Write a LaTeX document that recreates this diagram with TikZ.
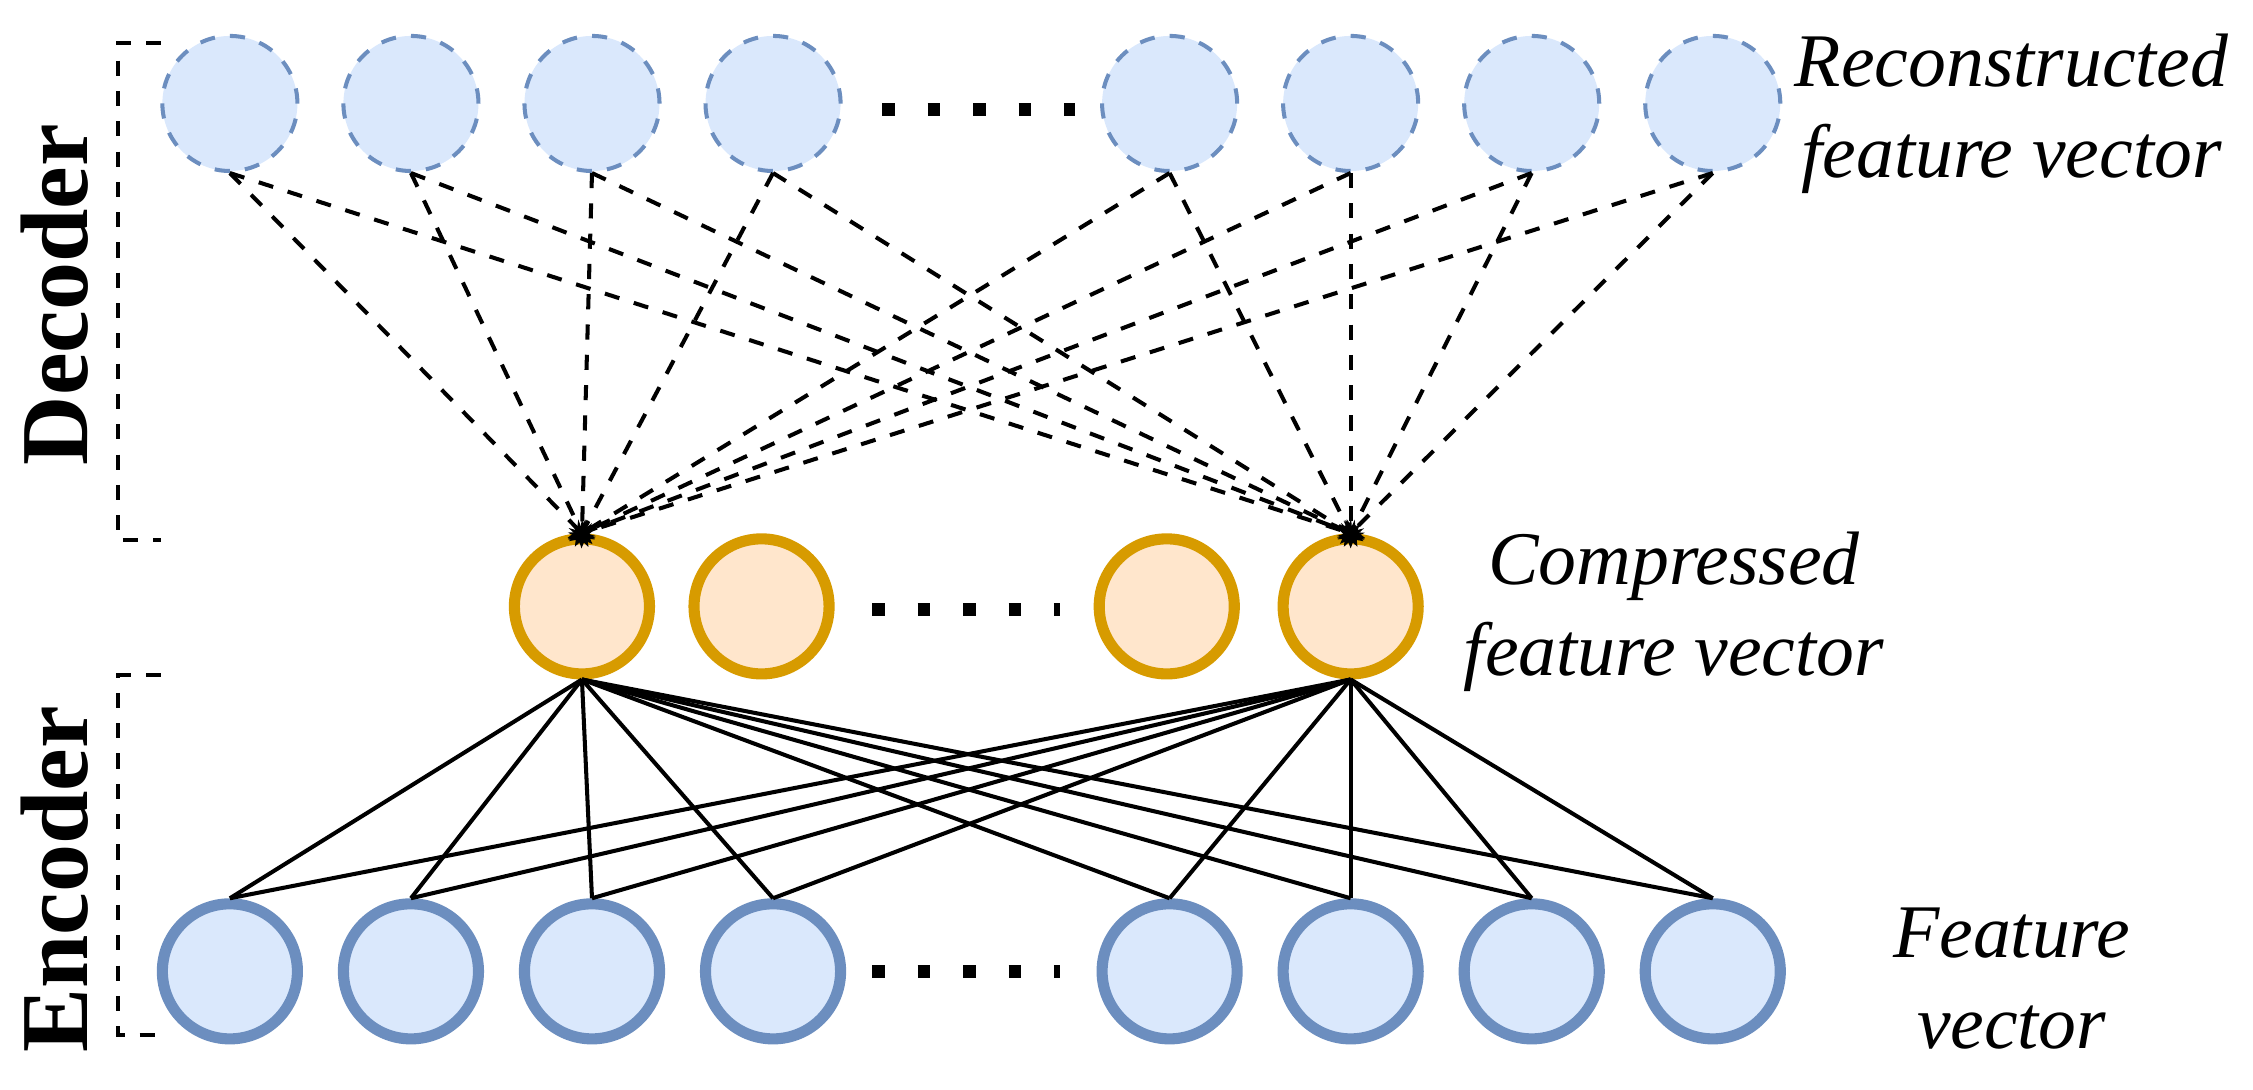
\documentclass[tikz,border=0pt]{standalone}
\usepackage{fontspec}
\setmainfont{Liberation Serif}
\usetikzlibrary{arrows.meta, positioning}
\definecolor{unitfill}{RGB}{218,232,252}
\definecolor{unitdraw}{RGB}{108,142,191}
\definecolor{codefill}{RGB}{255,230,204}
\definecolor{codedraw}{RGB}{215,155,0}
\tikzset{
  unit/.style={circle, minimum size=0.94cm, inner sep=0pt, fill=unitfill, draw=unitdraw},
  inunit/.style={unit, line width=2.2pt},
  outunit/.style={unit, dashed, thick},
  codeunit/.style={circle, minimum size=0.94cm, inner sep=0pt, fill=codefill, draw=codedraw, line width=2.2pt},
  link/.style={thick},
  dlink/.style={thick, dashed, -{Stealth[length=5pt]}, shorten >=-3pt},
  dots/.style={line width=2.5pt, dash pattern=on 2.5pt off 6.5pt},
  label/.style={font=\fontsize{15}{18}\selectfont\itshape, align=center},
  side/.style={font=\fontsize{19}{22}\selectfont\bfseries, rotate=90}
}
\begin{document}
\begin{tikzpicture}
  \useasboundingbox (0,0) rectangle (15.68,-7.58);
  % layers
  \foreach \i/\x in {1/1.60, 2/2.86, 3/4.12, 4/5.38, 5/8.14, 6/9.40, 7/10.66, 8/11.92} {
    \node (out\i) at (\x,-0.72) [outunit] {};
    \node (in\i)  at (\x,-6.76) [inunit]  {};
  }
  \foreach \i/\x in {1/4.05, 2/5.30, 3/8.12, 4/9.40}
    \node (code\i) at (\x,-4.22) [codeunit] {};
  % dots
  \coordinate (d1a) at (6.14,-0.76); \coordinate (d1b) at (7.48,-0.76);
  \coordinate (d2a) at (6.07,-4.24); \coordinate (d2b) at (7.38,-4.24);
  \coordinate (d3a) at (6.07,-6.76); \coordinate (d3b) at (7.38,-6.76);
  \draw [dots] (d1a) -- (d1b);
  \draw [dots] (d2a) -- (d2b);
  \draw [dots] (d3a) -- (d3b);
  % connections
  \foreach \i in {1,...,8} {
    \draw [link] (code1.south) -- (in\i.north);
    \draw [link] (code4.south) -- (in\i.north);
    \draw [dlink] (out\i.south) -- (code1.north);
    \draw [dlink] (out\i.south) -- (code4.north);
  }
  % labels
  \node (lout)  at (14.00,-0.79) [label] {Reconstructed\\feature vector};
  \node (lcode) at (11.65,-4.26) [label] {Compressed\\feature vector};
  \node (lin)   at (14.00,-6.81) [label] {Feature\\vector};
  % brackets
  \coordinate (db1) at (1.12,-0.30); \coordinate (db2) at (0.82,-0.30);
  \coordinate (db3) at (0.82,-3.76); \coordinate (db4) at (1.12,-3.76);
  \draw [thick, dashed] (db1) -- (db2) -- (db3) -- (db4);
  \coordinate (eb1) at (1.12,-4.70); \coordinate (eb2) at (0.82,-4.70);
  \coordinate (eb3) at (0.82,-7.20); \coordinate (eb4) at (1.12,-7.20);
  \draw [thick, dashed] (eb1) -- (eb2) -- (eb3) -- (eb4);
  \node (dec) at (0.38,-2.05) [side] {Decoder};
  \node (enc) at (0.38,-6.12) [side] {Encoder};
\end{tikzpicture}
\end{document}
